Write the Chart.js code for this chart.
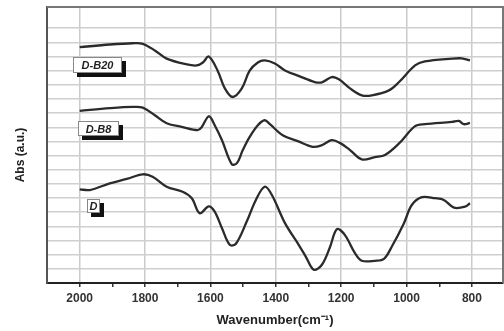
<!DOCTYPE html>
<html>
<head>
<meta charset="utf-8">
<script src="https://cdn.jsdelivr.net/npm/chart.js@4.4.1/dist/chart.umd.min.js"></script>
<style>
    html, body { margin: 0; padding: 0; background: #fff; overflow: hidden; }
    #wrap { width: 504px; height: 331px; }
</style>
</head>
<body>
<div id="wrap"><canvas id="chart"></canvas></div>
<script>
// FTIR spectra (wavenumber in cm-1, absorbance in a.u. with offsets)
const db20Wave = [2000, 1908, 1838, 1807, 1770, 1734, 1672, 1642, 1623, 1605, 1578, 1556, 1532, 1504, 1480, 1455, 1434, 1403, 1372, 1327, 1281, 1259, 1229, 1207, 1173, 1137, 1106, 1054, 1023, 974, 944, 861, 831, 806];
const db20Abs  = [16.66, 16.85, 16.94, 16.9, 16.43, 15.85, 15.44, 15.37, 15.58, 16.0, 15.0, 13.75, 13.14, 13.75, 15.0, 15.58, 15.73, 15.51, 15.02, 14.6, 14.2, 14.18, 14.55, 14.39, 13.75, 13.26, 13.26, 13.61, 14.2, 15.37, 15.65, 15.85, 15.87, 15.73];

const db8Wave = [2000, 1908, 1838, 1807, 1770, 1734, 1688, 1639, 1627, 1605, 1587, 1565, 1535, 1519, 1501, 1480, 1455, 1434, 1418, 1379, 1333, 1287, 1259, 1229, 1204, 1173, 1137, 1097, 1066, 1023, 974, 944, 861, 840, 825, 806];
const db8Abs  = [12.16, 12.35, 12.44, 12.39, 11.85, 11.29, 11.03, 10.8, 11.0, 11.78, 11.15, 10.1, 8.4, 8.47, 9.39, 10.32, 11.15, 11.5, 11.22, 10.44, 10.02, 9.62, 9.74, 10.09, 9.9, 9.39, 8.73, 8.89, 9.04, 9.86, 11.08, 11.22, 11.38, 11.45, 11.22, 11.31];

const dWave = [2000, 1969, 1908, 1856, 1807, 1777, 1734, 1685, 1657, 1633, 1605, 1587, 1565, 1541, 1522, 1489, 1461, 1434, 1412, 1372, 1330, 1308, 1284, 1259, 1235, 1213, 1189, 1158, 1137, 1097, 1069, 1045, 1008, 984, 953, 913, 886, 855, 821, 806];
const dAbs  = [6.62, 6.57, 7.04, 7.35, 7.68, 7.51, 6.8, 6.45, 5.99, 4.93, 5.41, 5.04, 3.89, 2.7, 2.77, 4.34, 5.87, 6.8, 6.22, 4.23, 2.7, 1.85, 0.94, 1.29, 2.49, 3.8, 3.4, 2.11, 1.57, 1.57, 1.71, 2.58, 4.23, 5.51, 6.06, 5.99, 5.87, 5.32, 5.39, 5.63];

const xMajor = [2000, 1800, 1600, 1400, 1200, 1000, 800];
const xMinor = [1900, 1700, 1500, 1300, 1100, 900];

const pts = (xs, ys) => xs.map((x, i) => ({ x: x, y: ys[i] }));

const seriesStyle = {
    borderColor: '#2b2b2b',
    borderWidth: 2.3,
    pointRadius: 0,
    tension: 0.35,
    fill: false
};

// boxed sample labels with a black drop shadow
const tagPlugin = {
    id: 'tags',
    afterDatasetsDraw(chart) {
        const ctx = chart.ctx;
        const tags = [
            { text: 'D-B20', x: 73, y: 57, w: 49, h: 16 },
            { text: 'D-B8', x: 78, y: 121, w: 41, h: 15 },
            { text: 'D', x: 87, y: 199, w: 13, h: 14 }
        ];
        ctx.save();
        tags.forEach(t => {
            ctx.fillStyle = '#111';
            ctx.fillRect(t.x + 4, t.y + 4, t.w, t.h);
            ctx.fillStyle = '#fff';
            ctx.fillRect(t.x, t.y, t.w, t.h);
            ctx.strokeStyle = '#888';
            ctx.lineWidth = 1;
            ctx.strokeRect(t.x + 0.5, t.y + 0.5, t.w - 1, t.h - 1);
            ctx.fillStyle = '#222';
            ctx.font = 'italic bold 11px "Liberation Sans", Arial, sans-serif';
            ctx.textAlign = 'center';
            ctx.textBaseline = 'middle';
            ctx.fillText(t.text, t.x + t.w / 2, t.y + t.h / 2 + 1);
        });
        ctx.restore();
    },
    afterDraw(chart) {
        const { ctx, chartArea: a } = chart;
        ctx.save();
        ctx.strokeStyle = '#777';
        ctx.lineWidth = 2;
        ctx.beginPath();
        ctx.moveTo(a.left, a.top);
        ctx.lineTo(a.right, a.top);
        ctx.lineTo(a.right, a.bottom);
        ctx.stroke();
        ctx.restore();
    }
};

new Chart(document.getElementById('chart'), {
    type: 'line',
    data: {
        datasets: [
            { label: 'D-B20', data: pts(db20Wave, db20Abs), ...seriesStyle },
            { label: 'D-B8', data: pts(db8Wave, db8Abs), ...seriesStyle },
            { label: 'D', data: pts(dWave, dAbs), ...seriesStyle }
        ]
    },
    options: {
        responsive: true,
        maintainAspectRatio: false,
        animation: false,
        devicePixelRatio: 1,
        layout: { padding: { left: 0, right: 1, top: 7, bottom: 0 } },
        plugins: {
            legend: { display: false },
            tooltip: { enabled: false }
        },
        scales: {
            x: {
                type: 'linear',
                reverse: true,
                min: 705,
                max: 2100,
                afterBuildTicks: s => {
                    s.ticks = xMajor.concat(xMinor).sort((a, b) => a - b).map(v => ({ value: v }));
                },
                afterFit: s => { s.height = 48; },
                ticks: {
                    autoSkip: false,
                    maxRotation: 0,
                    padding: 4,
                    color: '#333',
                    font: { family: '"Liberation Sans", Arial, sans-serif', size: 12, weight: 'bold' },
                    callback: v => xMajor.includes(v) ? String(v) : ''
                },
                grid: {
                    color: c => c.tick && xMajor.includes(c.tick.value) ? '#cacaca' : 'rgba(0,0,0,0)',
                    lineWidth: 1.5,
                    tickLength: 4,
                    tickColor: '#333',
                    tickWidth: 1.5
                },
                border: { color: '#222', width: 2 },
                title: {
                    display: true,
                    text: 'Wavenumber(cm⁻¹)',
                    color: '#222',
                    padding: { top: 0, bottom: 3 },
                    font: { family: '"Liberation Sans", Arial, sans-serif', size: 13, weight: 'bold' }
                }
            },
            y: {
                min: 0,
                max: 19.5,
                afterFit: s => { s.width = 47; },
                ticks: { display: false, stepSize: 1 },
                grid: { color: '#cfcfcf', lineWidth: 1.5, drawTicks: false },
                border: { color: '#555', width: 2 },
                title: {
                    display: true,
                    text: 'Abs (a.u.)      ',
                    color: '#222',
                    padding: { top: 13, bottom: 0 },
                    font: { family: '"Liberation Sans", Arial, sans-serif', size: 12, weight: 'bold' }
                }
            }
        }
    },
    plugins: [tagPlugin]
});
</script>
</body>
</html>
